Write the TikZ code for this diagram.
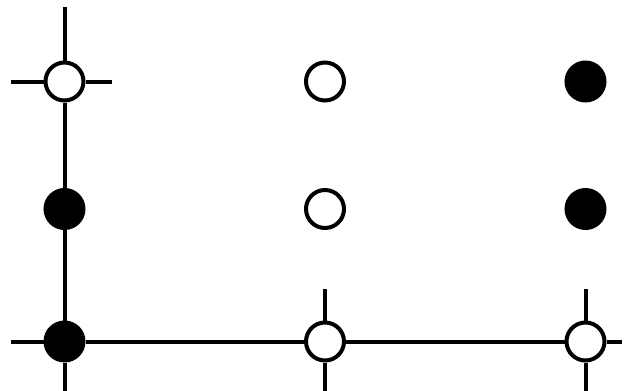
\documentclass[tikz,border=0pt]{standalone}
\begin{document}
\begin{tikzpicture}[x=1pt,y=-1pt,
  dotopen/.style={circle,draw=black,fill=white,line width=4pt,minimum size=38pt,inner sep=0pt},
  dotfull/.style={circle,draw=black,fill=black,line width=4pt,minimum size=38pt,inner sep=0pt},
  wire/.style={line width=4pt,black}]
\useasboundingbox (0,0) rectangle (624,391);
\node[dotopen] (n11) at (64.5,81.5) {};
\node[dotfull] (n21) at (64.5,209) {};
\node[dotfull] (n31) at (64.5,341.5) {};
\node[dotopen] (n12) at (325,81.5) {};
\node[dotopen] (n22) at (325,209) {};
\node[dotopen] (n32) at (325,341.5) {};
\node[dotfull] (n13) at (585.5,81.5) {};
\node[dotfull] (n23) at (585.5,209) {};
\node[dotopen] (n33) at (585.5,341.5) {};
\coordinate (topA) at (64.5,7);
\coordinate (botA) at (64.5,391);
\coordinate (leftA) at (11,81.5);
\coordinate (rightA) at (112,81.5);
\coordinate (leftC) at (11,341.5);
\coordinate (rightC) at (622,341.5);
\coordinate (topB) at (325,289);
\coordinate (botB) at (325,391);
\coordinate (topC) at (585.5,289);
\coordinate (botC) at (585.5,391);
\draw[wire] (topA) -- (n11);
\draw[wire] (n11) -- (n21);
\draw[wire] (n21) -- (n31);
\draw[wire] (n31) -- (botA);
\draw[wire] (leftA) -- (n11);
\draw[wire] (n11) -- (rightA);
\draw[wire] (leftC) -- (n31);
\draw[wire] (n31) -- (n32);
\draw[wire] (n32) -- (n33);
\draw[wire] (n33) -- (rightC);
\draw[wire] (topB) -- (n32);
\draw[wire] (n32) -- (botB);
\draw[wire] (topC) -- (n33);
\draw[wire] (n33) -- (botC);
\end{tikzpicture}
\end{document}
